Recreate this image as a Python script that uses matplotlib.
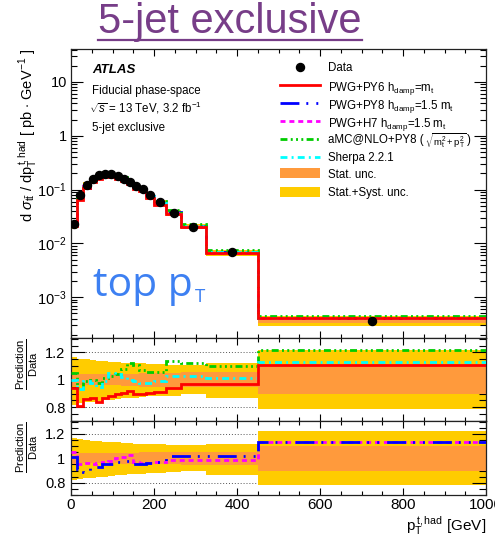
import matplotlib
matplotlib.use("Agg")
import matplotlib.pyplot as plt
import numpy as np
from matplotlib.lines import Line2D
from matplotlib.patches import Rectangle
from matplotlib.ticker import FixedLocator, FixedFormatter, MultipleLocator, LogLocator, NullFormatter

plt.rcParams['font.family'] = ['Liberation Sans', 'DejaVu Sans']
plt.rcParams['mathtext.fontset'] = 'custom'
plt.rcParams['mathtext.rm'] = 'Liberation Sans'
plt.rcParams['mathtext.it'] = 'Liberation Sans:italic'
plt.rcParams['mathtext.bf'] = 'Liberation Sans:bold'

# hadronic top pT binning (GeV)
bin_edges = [0, 15, 30, 45, 60, 75, 90, 105, 120, 135, 150, 165, 180, 200, 230, 265, 325, 450, 1000]

# measured cross section [pb/GeV]
data_xs = [0.0226, 0.078, 0.122, 0.157, 0.189, 0.198, 0.192, 0.177, 0.160, 0.137,
           0.115, 0.1026, 0.078, 0.058, 0.0373, 0.0205, 0.00684, 0.000366]

# relative uncertainties
stat_unc = [0.045, 0.04, 0.04, 0.04, 0.04, 0.04, 0.04, 0.04, 0.045, 0.045,
            0.045, 0.05, 0.05, 0.05, 0.05, 0.055, 0.055, 0.10]
tot_up = [0.17, 0.155, 0.15, 0.145, 0.14, 0.135, 0.13, 0.13, 0.125, 0.125,
          0.12, 0.12, 0.115, 0.115, 0.11, 0.11, 0.12, 0.22]
tot_dn = [0.18, 0.17, 0.165, 0.16, 0.155, 0.15, 0.145, 0.14, 0.135, 0.13,
          0.13, 0.125, 0.12, 0.12, 0.115, 0.10, 0.135, 0.215]

# prediction / data
ratio_pwg_py6 = [0.94, 0.81, 0.86, 0.87, 0.84, 0.865, 0.88, 0.895, 0.905, 0.92,
                 0.895, 0.90, 0.905, 0.91, 0.94, 0.968, 0.968, 1.106]
ratio_pwg_py8 = [1.01, 0.91, 0.89, 0.92, 0.93, 0.95, 0.955, 0.97, 0.975, 0.98,
                 0.95, 0.955, 0.96, 0.97, 1.02, 1.02, 1.02, 1.135]
ratio_pwg_h7 = [1.05, 0.95, 0.96, 0.95, 0.96, 0.97, 0.98, 1.0, 1.01, 1.03,
                0.97, 0.96, 0.96, 0.97, 0.99, 0.99, 0.99, 1.135]
ratio_amc = [1.05, 0.94, 0.99, 1.00, 0.98, 1.01, 1.03, 1.04, 1.08, 1.12,
             1.11, 1.07, 1.06, 1.06, 1.14, 1.125, 1.10, 1.215]
ratio_sherpa = [1.00, 0.93, 0.99, 0.98, 0.95, 0.99, 1.05, 1.04, 1.02, 1.00,
                0.99, 0.975, 0.98, 0.99, 1.03, 1.03, 1.017, 1.13]

edges = np.array(bin_edges, dtype=float)
centers = 0.5 * (edges[1:] + edges[:-1])
data = np.array(data_xs)
stat = np.array(stat_unc)
up = np.array(tot_up)
dn = np.array(tot_dn)

W, H = 495, 540
fig = plt.figure(figsize=(W / 100, H / 100), dpi=100)


def fx(x):
    return x / W


def fy(y):
    return 1 - y / H


def px2pt(p):
    return p * 72 / 100


C_ORANGE = '#FF9A3C'
C_YELLOW = '#FFCC00'
styles = {
    'py6': dict(color='#FF0000', lw=2.0, ls='-'),
    'py8': dict(color='#0000FF', lw=2.0, ls=(0, (6.8, 2.5, 0.7, 2.9, 0.7, 2.9))),
    'h7': dict(color='#FF00FF', lw=2.0, ls=(0, (1.8, 1.4))),
    'amc': dict(color='#00CC00', lw=2.0, ls=(0, (2.5, 1.2, 0.7, 1.2, 0.7, 1.2, 0.7, 1.2))),
    'sherpa': dict(color='#00FFFF', lw=2.0, ls=(0, (2.5, 1.5, 0.7, 1.5))),
}

x0, x1 = 71, 486
ax_main = fig.add_axes([fx(x0), fy(338), fx(x1 - x0), (338 - 49) / H])
ax_r1 = fig.add_axes([fx(x0), fy(421), fx(x1 - x0), (421 - 338) / H], sharex=ax_main)
ax_r2 = fig.add_axes([fx(x0), fy(495), fx(x1 - x0), (495 - 421) / H], sharex=ax_main)


def band(ax, lo, hi, color, z):
    for i in range(len(centers)):
        ax.add_patch(Rectangle((edges[i], lo[i]), edges[i + 1] - edges[i], hi[i] - lo[i],
                               facecolor=color, edgecolor='none', zorder=z))


# main panel
band(ax_main, data * (1 - dn), data * (1 + up), C_YELLOW, 1)
band(ax_main, data * (1 - stat), data * (1 + stat), C_ORANGE, 2)
for key, r in [('py8', ratio_pwg_py8), ('h7', ratio_pwg_h7), ('amc', ratio_amc),
               ('sherpa', ratio_sherpa), ('py6', ratio_pwg_py6)]:
    ax_main.stairs(data * np.array(r), edges, baseline=None, zorder=3, **styles[key])
ax_main.plot(centers, data, 'o', color='black', ms=5.8, zorder=5)
ax_main.set_yscale('log')
ax_main.set_ylim(1.75e-4, 41)
ax_main.set_xlim(0, 1000)

# ratio panels
for ax in (ax_r1, ax_r2):
    ax.axhline(0.8, color='#555555', lw=0.7, ls=(0, (1, 2)), zorder=0)
    ax.axhline(1.2, color='#555555', lw=0.7, ls=(0, (1, 2)), zorder=0)
    band(ax, 1 - dn, 1 + up, C_YELLOW, 1)
    band(ax, 1 - stat, 1 + stat, C_ORANGE, 2)
    ax.set_ylim(0.7, 1.305)

for key, r in [('amc', ratio_amc), ('sherpa', ratio_sherpa), ('py6', ratio_pwg_py6)]:
    ax_r1.stairs(r, edges, baseline=None, zorder=3, **styles[key])
for key, r in [('h7', ratio_pwg_h7), ('py8', ratio_pwg_py8)]:
    ax_r2.stairs(r, edges, baseline=None, zorder=3, **styles[key])

# axis styling
for ax in (ax_main, ax_r1, ax_r2):
    for s in ax.spines.values():
        s.set_linewidth(0.9)
        s.set_color('#222222')
    ax.xaxis.set_major_locator(MultipleLocator(200))
    ax.xaxis.set_minor_locator(MultipleLocator(50))
    ax.tick_params(axis='x', which='major', direction='in', top=True, bottom=True, length=px2pt(7), width=0.8)
    ax.tick_params(axis='x', which='minor', direction='in', top=True, bottom=True, length=px2pt(4), width=0.8)
    ax.tick_params(axis='y', which='both', direction='in', left=True, right=True, width=0.8)

ax_main.yaxis.set_major_locator(FixedLocator([1e-3, 1e-2, 1e-1, 1, 10]))
ax_main.yaxis.set_major_formatter(FixedFormatter([r'$10^{-3}$', r'$10^{-2}$', r'$10^{-1}$', '1', '10']))
ax_main.yaxis.set_minor_locator(LogLocator(base=10, subs=np.arange(2, 10)))
ax_main.yaxis.set_minor_formatter(NullFormatter())
ax_main.tick_params(axis='y', which='major', length=px2pt(12), labelsize=10.5, pad=3)
ax_main.tick_params(axis='y', which='minor', length=px2pt(6))
ax_main.tick_params(axis='x', labelbottom=False)
ax_r1.tick_params(axis='x', labelbottom=False)

for ax in (ax_r1, ax_r2):
    ax.yaxis.set_major_locator(FixedLocator([0.8, 1.0, 1.2]))
    ax.yaxis.set_major_formatter(FixedFormatter(['0.8', '1', '1.2']))
    ax.yaxis.set_minor_locator(MultipleLocator(0.05))
    ax.tick_params(axis='y', which='major', length=px2pt(14), labelsize=10.5, pad=4)
    ax.tick_params(axis='y', which='minor', length=px2pt(7))
ax_r2.tick_params(axis='x', labelsize=11, pad=2)

# axis titles
fig.text(fx(28), fy(49),
         r'd $\sigma_{\mathrm{t\bar{t}}}$ / dp$_{\mathrm{T}}^{\,\mathrm{t,had}}$ [ pb $\cdot$ GeV$^{-1}$ ]',
         rotation=90, ha='center', va='top', fontsize=10.5)
fig.text(fx(27), fy(338), r'$\frac{\mathrm{Prediction}}{\mathrm{Data}}$', rotation=90,
         ha='center', va='top', fontsize=11.5)
fig.text(fx(27), fy(421), r'$\frac{\mathrm{Prediction}}{\mathrm{Data}}$', rotation=90,
         ha='center', va='top', fontsize=11.5)
fig.text(fx(486), fy(531), r'p$_{\mathrm{T}}^{\,\mathrm{t,had}}$ [GeV]', ha='right', va='baseline', fontsize=11)

# ATLAS labels
fig.text(fx(92), fy(73), 'ATLAS', fontsize=9.5, fontweight='bold', fontstyle='italic')
fig.text(fx(92), fy(94), 'Fiducial phase-space', fontsize=8.3)
fig.text(fx(89), fy(113), r'$\sqrt{s}$ = 13 TeV, 3.2 fb$^{-1}$', fontsize=8.3)
fig.text(fx(92), fy(131), '5-jet exclusive', fontsize=8.3)

# legend
legend_rows = [
    ('data', 'Data'),
    ('py6', r'PWG+PY6 h$_{\rm damp}$=m$_{\rm t}$'),
    ('py8', r'PWG+PY8 h$_{\rm damp}$=1.5 m$_{\rm t}$'),
    ('h7', r'PWG+H7 h$_{\rm damp}$=1.5 m$_{\rm t}$'),
    ('amc', 'aMC@NLO+PY8 ('),
    ('sherpa', 'Sherpa 2.2.1'),
    ('stat', 'Stat. unc.'),
    ('syst', 'Stat.+Syst. unc.'),
]
row_y = [66.7, 85, 103, 121, 139, 157, 173.5, 191.5]
legend_texts = {}
for (key, label), yy in zip(legend_rows, row_y):
    if key == 'data':
        fig.add_artist(Line2D([fx(300)], [fy(yy)], marker='o', color='black', ms=5.8, ls='none'))
    elif key in ('stat', 'syst'):
        c = C_ORANGE if key == 'stat' else C_YELLOW
        fig.add_artist(Rectangle((fx(280), fy(yy + 5)), fx(40), 10 / H, facecolor=c, edgecolor='none'))
    else:
        fig.add_artist(Line2D([fx(280), fx(320)], [fy(yy), fy(yy)], **styles[key]))
    legend_texts[key] = fig.text(fx(328), fy(yy), label, fontsize=8.3, va='center_baseline')

# headline and overlay tag
title = fig.text(fx(230), fy(33), '5-jet exclusive', fontsize=30, color='#773D88',
                 ha='center', va='baseline')
tag = fig.text(fx(93), fy(296.5), 'top p', fontsize=27, color='#3D80F2',
               family=['Open Sans', 'DejaVu Sans'])

fig.canvas.draw()
renderer = fig.canvas.get_renderer()

# aMC@NLO legend entry: a smaller sqrt after the opening bracket
ab = legend_texts['amc'].get_window_extent(renderer)
sq = fig.text(ab.x1 / W + fx(1), fy(139), r'$\sqrt{{\rm m}_{\rm t}^{2}+{\rm p}_{\rm T}^{2}}$',
              fontsize=6.8, va='center_baseline')
fig.canvas.draw()
sb = sq.get_window_extent(renderer)
fig.text(sb.x1 / W + fx(1), fy(139), ')', fontsize=8.3, va='center_baseline')

# scale the tag so that "top p" spans ~100 px
tb = tag.get_window_extent(renderer)
tag.set_fontsize(27 * 100 / tb.width)
fig.canvas.draw()
tb = tag.get_window_extent(renderer)
fig.text(tb.x1 / W + fx(2), fy(302.5), 'T', fontsize=13.5, color='#3D80F2',
         family=['Open Sans', 'DejaVu Sans'])

bb = title.get_window_extent(renderer)
fig.add_artist(Line2D([bb.x0 / W, bb.x1 / W], [fy(40), fy(40)], color='#773D88', lw=1.6))

fig.savefig('out.png', dpi=100)
